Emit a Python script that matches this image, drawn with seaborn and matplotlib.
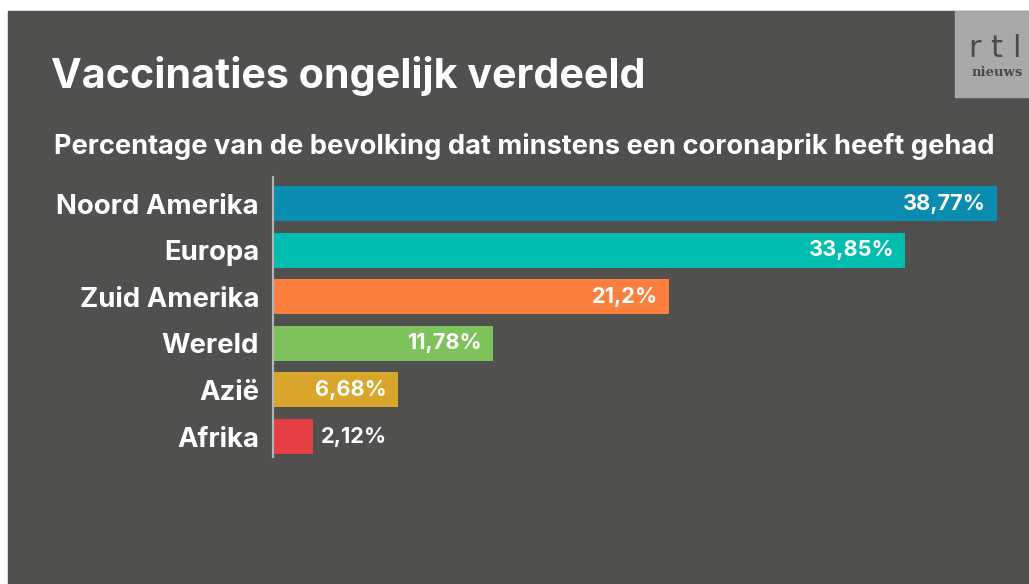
import matplotlib
matplotlib.use("Agg")
import matplotlib.pyplot as plt
from matplotlib.patches import Rectangle
import pandas as pd
import seaborn as sns

# data
regions = ["Noord Amerika", "Europa", "Zuid Amerika", "Wereld", "Azië", "Afrika"]
pct_first_dose = [38.77, 33.85, 21.2, 11.78, 6.68, 2.12]
bar_colors = ["#0a8bb0", "#00bdb0", "#fd7f3e", "#7dc25a", "#d8a62b", "#e63e45"]

BG = "#50504e"

sns.set_theme(style="white")
plt.rcParams["font.family"] = ["Inter", "DejaVu Sans"]

df = pd.DataFrame({"region": regions, "pct": pct_first_dose})

fig = plt.figure(figsize=(10.29, 5.84), dpi=100, facecolor="white")
fig.patches.append(Rectangle((8 / 1029, 0), 1, (584 - 11) / 584,
                             transform=fig.transFigure, color=BG, zorder=-10))
# logo box, letters of "rtl" spread out like the wide logo type
fig.patches.append(Rectangle((955 / 1029, (584 - 97) / 584), 74 / 1029, 86 / 584,
                             transform=fig.transFigure, color="#a9a9a9", zorder=-9))
for letter, x_px in zip("rtl", [975, 996, 1016]):
    fig.text(x_px / 1029, (584 - 57) / 584, letter, color="#4a4a4a",
             fontsize=22, ha="center", va="baseline", family=["DejaVu Sans"])
fig.text(997 / 1029, (584 - 76) / 584, "nieuws", color="#4a4a4a", fontsize=9.5,
         ha="center", va="baseline", family=["DejaVu Serif"], fontweight="bold")

ax = fig.add_axes([273 / 1029, (584 - 457) / 584, 747 / 1029, 280 / 584])
ax.set_facecolor("none")

sns.barplot(data=df, y="region", x="pct", hue="region", palette=bar_colors,
            orient="h", width=0.75, legend=False, saturation=1, linewidth=0,
            ax=ax)

ax.set_xlim(0, 40)
ax.set_ylim(5.44, -0.57)
ax.set_xlabel("")
ax.set_ylabel("")
ax.set_xticks([])
for side in ["top", "right", "bottom"]:
    ax.spines[side].set_visible(False)
ax.spines["left"].set_color("#b4b4b4")
ax.spines["left"].set_linewidth(1.6)
ax.tick_params(axis="y", length=0, pad=10, labelsize=19.8, labelcolor="white")
for lbl in ax.get_yticklabels():
    lbl.set_fontweight("bold")

for i, v in enumerate(pct_first_dose):
    txt = f"{v:g}".replace(".", ",") + "%"
    if v > 4:
        ax.annotate(txt, (v, i), xytext=(-8, 0), textcoords="offset points",
                    ha="right", va="center", color="white", fontsize=15.7,
                    fontweight="bold")
    else:
        ax.annotate(txt, (v, i), xytext=(6, 0), textcoords="offset points",
                    ha="left", va="center", color="white", fontsize=15.7,
                    fontweight="bold")

fig.text(51 / 1029, (584 - 88) / 584, "Vaccinaties ongelijk verdeeld",
         color="white", fontsize=29.7, fontweight="bold", va="baseline")
fig.text(54 / 1029, (584 - 154) / 584,
         "Percentage van de bevolking dat minstens een coronaprik heeft gehad",
         color="white", fontsize=19.6, fontweight="bold", va="baseline")

fig.savefig("out.png", dpi=100, facecolor=fig.get_facecolor())
